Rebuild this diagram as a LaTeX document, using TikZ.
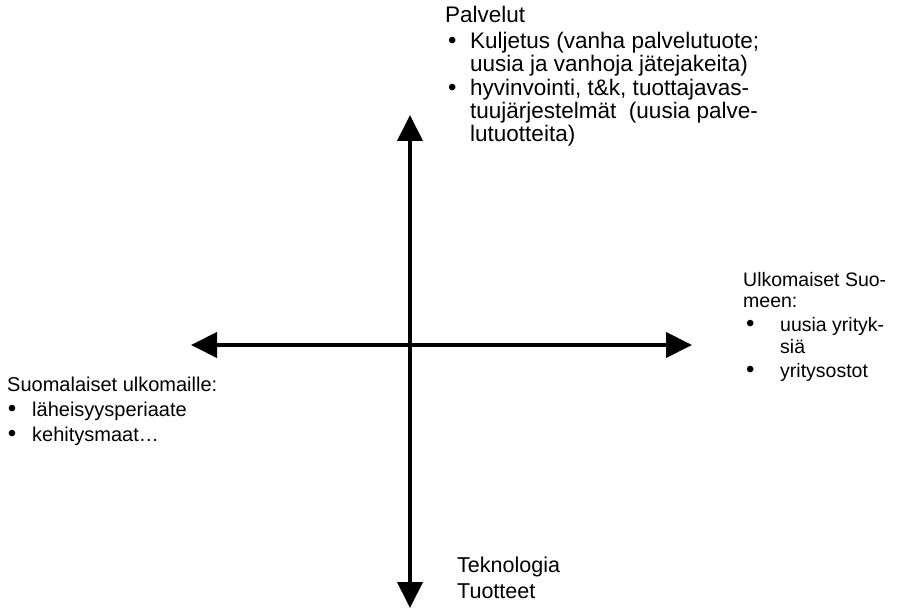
\documentclass[tikz,border=0pt]{standalone}
\usepackage{fontspec}
\setmainfont{Liberation Sans}
\usetikzlibrary{arrows.meta,positioning}
\newcommand\itembul[1]{\llap{{\fontsize{24}{24}\selectfont\textbullet}\hspace{#1}}}

\begin{document}
\begin{tikzpicture}[x=1pt,y=-1pt,
  axis/.style={{Triangle[length=26pt,width=25pt]}-{Triangle[length=26pt,width=25pt]},line width=4pt},
  txt/.style={inner sep=0pt,align=left,anchor=base west,font=\fontsize{20}{26}\selectfont},
  toptxt/.style={txt,font=\fontsize{22.5}{23}\selectfont},
  sidetxt/.style={txt,font=\fontsize{19.5}{21.5}\selectfont},
  bigtxt/.style={txt,font=\fontsize{21.5}{26}\selectfont}
]
\useasboundingbox (0,0) rectangle (899,609);

% axes
\coordinate (top) at (410,115);
\coordinate (bot) at (410,608);
\coordinate (lft) at (191,345);
\coordinate (rgt) at (692,345);
\draw[axis] (lft) -- (rgt);
\draw[axis] (bot) -- (top);

% Palvelut (top)
\node[toptxt] (srv) at (445,23) {Palvelut};
\node[toptxt] (srv1) at (470,72) {\itembul{13.8pt}Kuljetus (vanha palvelutuote;\\uusia ja vanhoja jätejakeita)};
\node[toptxt] (srv2) at (470,142) {\itembul{13.8pt}hyvinvointi, t\&k, tuottajavas-\\tuujärjestelmät\ \ (uusia palve-\\lutuotteita)};

% Ulkomaiset Suomeen (right)
\node[sidetxt] (inw) at (743,308) {Ulkomaiset Suo-\\meen:};
\node[sidetxt] (inw1) at (780,353) {\itembul{25.8pt}uusia yrityk-\\siä};
\node[sidetxt] (inw2) at (780,377) {\itembul{25.8pt}yritysostot};

% Suomalaiset ulkomaille (left)
\node[txt] (out) at (7,391) {Suomalaiset ulkomaille:};
\node[txt] (out1) at (32,416) {\itembul{15.8pt}läheisyysperiaate};
\node[txt] (out2) at (32,441) {\itembul{15.8pt}kehitysmaat…};

% Teknologia (bottom)
\node[bigtxt] (tech) at (457,598) {Teknologia\\Tuotteet};

\end{tikzpicture}
\end{document}
